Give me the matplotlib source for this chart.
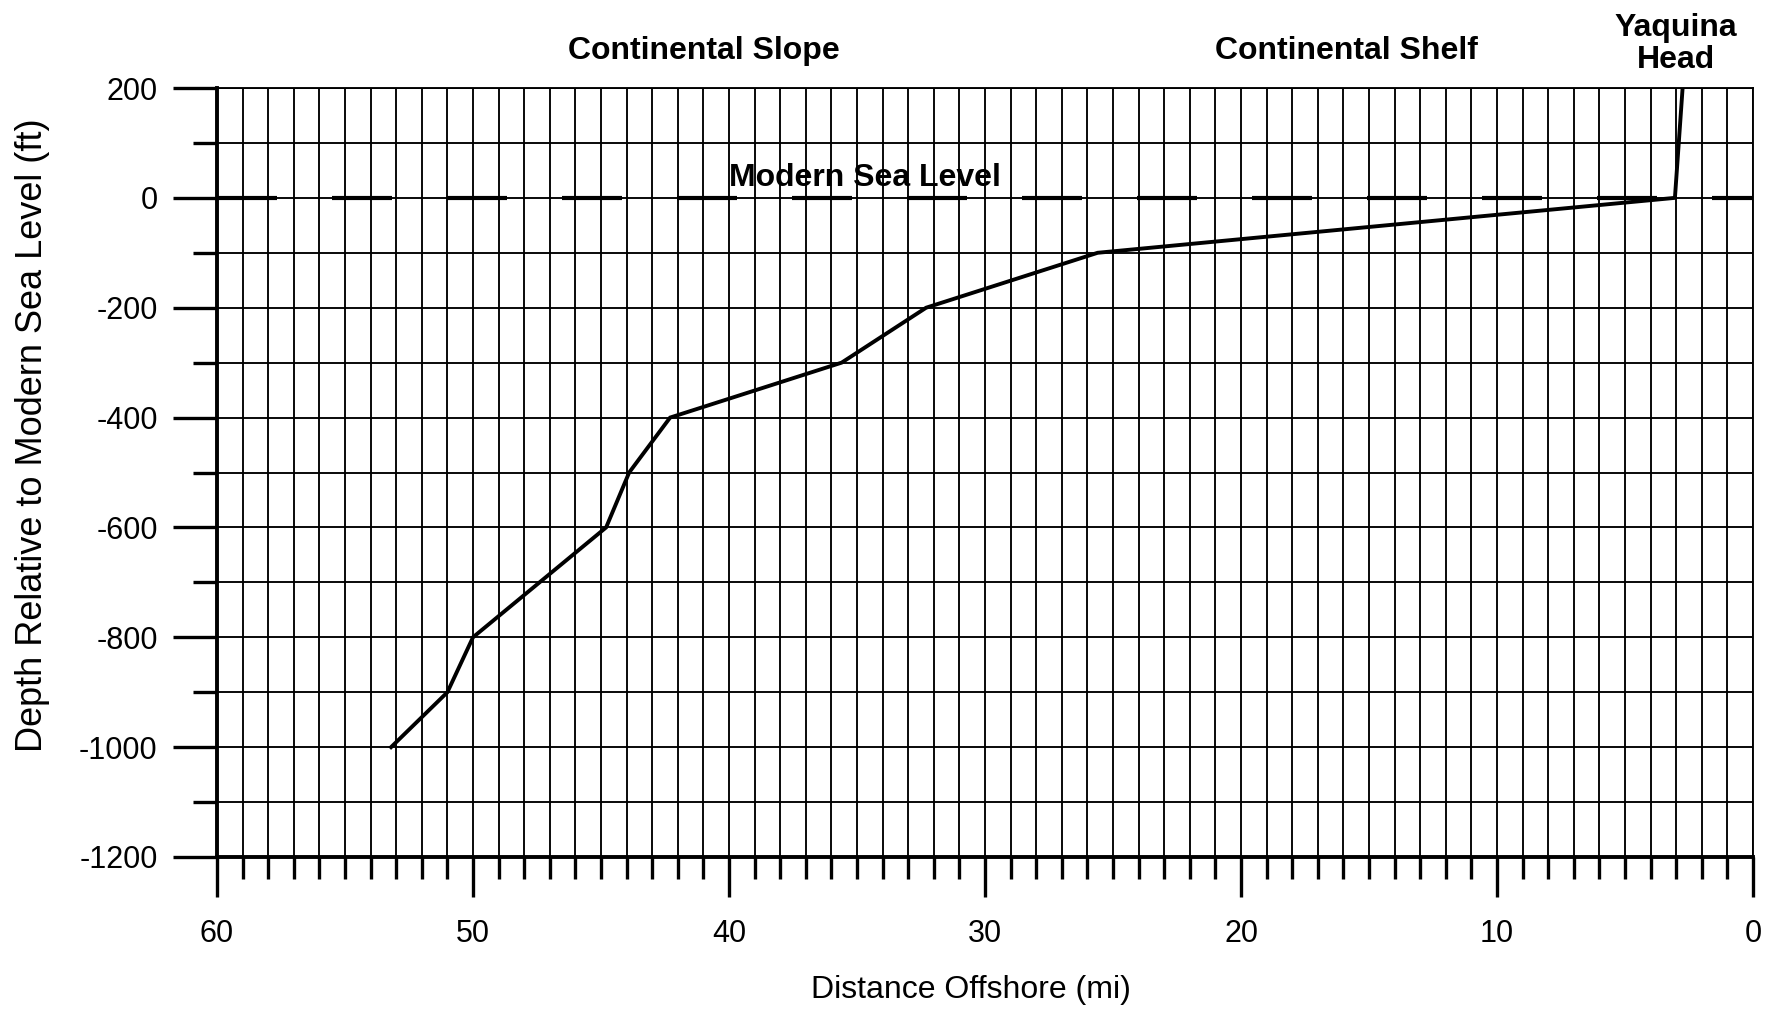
import matplotlib
matplotlib.use("Agg")
import matplotlib.pyplot as plt
from matplotlib.ticker import MultipleLocator

plt.rcParams['font.family'] = ['Liberation Sans', 'DejaVu Sans']
plt.rcParams['axes.unicode_minus'] = False

# Data
distance_mi = [53.2, 51.0, 50.0, 44.8, 43.9, 42.3, 35.6, 32.3, 25.6, 3.05, 2.75]
depth_ft = [-1000, -900, -800, -600, -500, -400, -300, -200, -100, 0, 200]
sea_level_x = [60, 0]
sea_level_y = [0, 0]

region_labels = ["Continental Slope", "Continental Shelf", "Yaquina\nHead", "Modern Sea Level"]
region_x = [41.0, 15.9, 3.0, 34.7]
region_y = [267, 267, 280, 36]

DPI = 100
fig = plt.figure(figsize=(17.75, 10.11), dpi=DPI)
ax = fig.add_axes([217 / 1775, 154 / 1011, 1536 / 1775, 769 / 1011])

ax.set_xlim(60, 0)
ax.set_ylim(-1200, 200)

# grid
ax.xaxis.set_major_locator(MultipleLocator(10))
ax.xaxis.set_minor_locator(MultipleLocator(1))
ax.yaxis.set_major_locator(MultipleLocator(200))
ax.yaxis.set_minor_locator(MultipleLocator(100))
ax.grid(True, which='both', color='black', linewidth=1.35)
ax.set_axisbelow(True)

# sea level dashed line
lw_dash = 3.0
ax.plot(sea_level_x, sea_level_y, color='black', linewidth=lw_dash,
        linestyle=(0, (43.2 / lw_dash, 39.6 / lw_dash)), solid_capstyle='butt',
        dash_capstyle='butt', zorder=3)

# profile
ax.plot(distance_mi, depth_ft, color='black', linewidth=2.8, zorder=4,
        solid_joinstyle='miter')

# spines
for s in ['top', 'right']:
    ax.spines[s].set_linewidth(1.35)
ax.spines['left'].set_linewidth(2.8)
ax.spines['bottom'].set_linewidth(2.8)

ax.tick_params(axis='x', which='major', direction='out', length=28.8, width=2.4,
               labelsize=22, pad=16, top=False)
ax.tick_params(axis='x', which='minor', direction='out', length=15.8, width=2.4, top=False)
ax.tick_params(axis='y', which='major', direction='out', length=31.7, width=2.4,
               labelsize=22, pad=11, right=False)
ax.tick_params(axis='y', which='minor', direction='out', length=17.3, width=2.4, right=False)

ax.set_xlabel("Distance Offshore (mi)", fontsize=23)
ax.xaxis.set_label_coords(0.491, -0.173)
ax.xaxis.label.set_va('center')
ax.set_ylabel("Depth Relative to Modern Sea Level (ft)", fontsize=26)
ax.yaxis.set_label_coords(-0.1198, 0.549)
ax.yaxis.label.set_va('center')

for txt, x, y in zip(region_labels, region_x, region_y):
    ax.text(x, y, txt, ha='center', va='center', fontsize=23, fontweight='bold',
            clip_on=False, linespacing=1.1, zorder=5)

fig.savefig("out.png", dpi=DPI)
